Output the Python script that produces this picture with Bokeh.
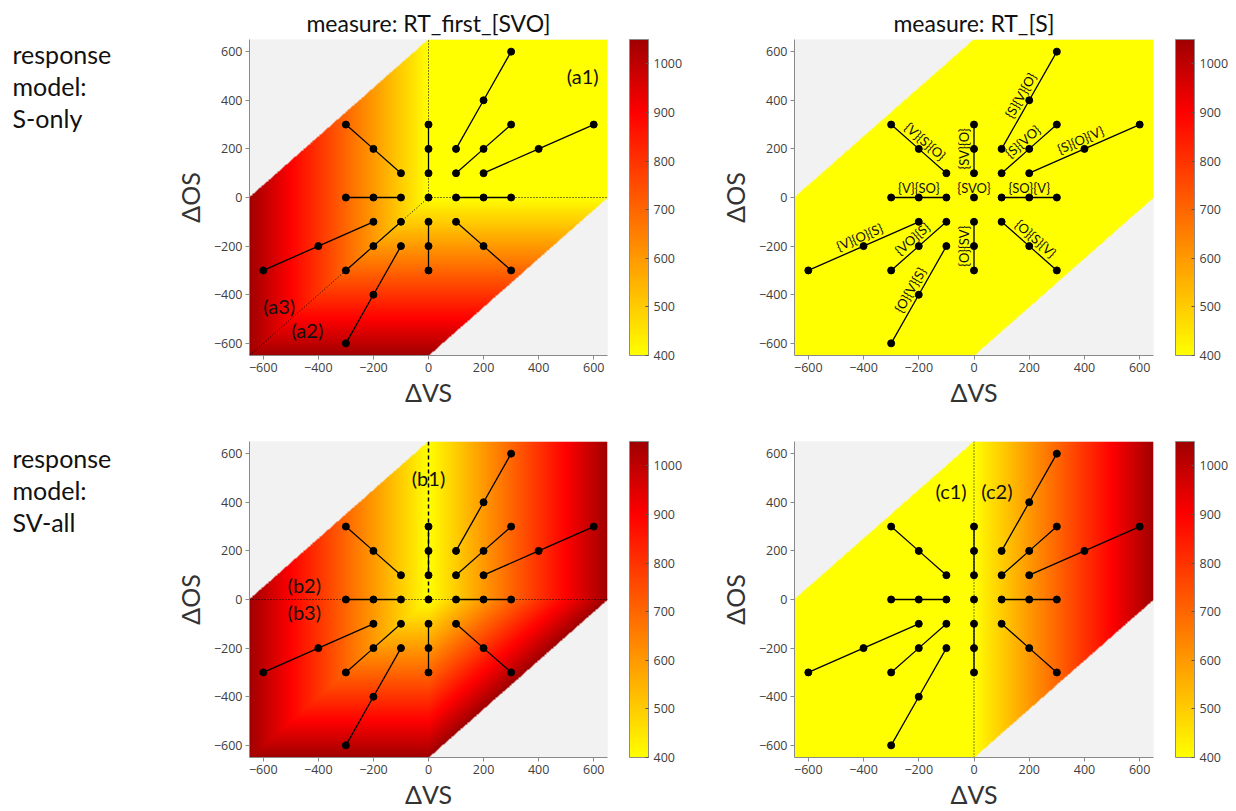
import numpy as np
from bokeh.plotting import figure
from bokeh.models import Range1d, FixedTicker, LinearColorMapper, ColorBar, ColumnDataSource
from bokeh.layouts import row, column
from bokeh.embed import file_html
from bokeh.resources import INLINE
from bokeh.core.properties import value

# ------------------------------------------------------------------ data
# stimulus-onset rays: each ray is three conditions (inner -> outer), in ms
RAY_VS = [[100, 200, 300], [100, 200, 300], [200, 400, 600], [100, 200, 300],
          [100, 200, 300], [0, 0, 0], [-100, -200, -300], [-100, -200, -300],
          [-200, -400, -600], [-100, -200, -300], [-100, -200, -300], [0, 0, 0]]
RAY_OS = [[200, 400, 600], [100, 200, 300], [100, 200, 300], [0, 0, 0],
          [-100, -200, -300], [-100, -200, -300], [-200, -400, -600], [-100, -200, -300],
          [-100, -200, -300], [0, 0, 0], [100, 200, 300], [100, 200, 300]]
RAY_LABELS = ["{S}{V}{O}", "{S}{VO}", "{S}{O}{V}", "{SO}{V}", "{O}{S}{V}", "{O}{SV}",
              "{O}{V}{S}", "{VO}{S}", "{V}{O}{S}", "{V}{SO}", "{V}{S}{O}", "{SV}{O}"]
CENTER_VS = [0]
CENTER_OS = [0]
CENTER_LABEL = ["{SVO}"]

AXIS_TICKS = [-600, -400, -200, 0, 200, 400, 600]
CBAR_TICKS = [400, 500, 600, 700, 800, 900, 1000]
AXIS_LIMIT = 650          # plotted range of onset differences
MAX_VO_DIFF = 650         # simulated range of |dVS - dOS|
RT_BASE = 400             # base response time (ms)
RT_LOW, RT_HIGH = 400, 1050

COL_TITLES = ["measure: RT_first_[SVO]", "measure: RT_[S]"]
ROW_LABELS = [["response", "model:", "S-only"], ["response", "model:", "SV-all"]]
X_LABEL = "ΔVS"
Y_LABEL = "ΔOS"

TAGS_A = ["(a1)", "(a3)", "(a2)"]
TAGS_B = ["(b1)", "(b2)", "(b3)"]
TAGS_C = ["(c1)", "(c2)"]

# ------------------------------------------------------------------ models
# S at 0, V at dVS, O at dOS.  RT measured from the first stimulus / from S.
def s_only_first(vs, os_):
    return RT_BASE + 0 - np.minimum(0, np.minimum(vs, os_))

def s_only_s(vs, os_):
    return RT_BASE + 0 * vs

def sv_all_first(vs, os_):
    return RT_BASE + np.maximum(0, vs) - np.minimum(0, np.minimum(vs, os_))

def sv_all_s(vs, os_):
    return RT_BASE + np.maximum(0, vs) - 0 * os_

# ------------------------------------------------------------------ style
FONT = "Lato"
TICK_FONT = "Open Sans"
GRAY_BG = "#f2f2f2"
AXIS_GRAY = "#8a8a8a"
TEXT_GRAY = "#404040"

anchors_v = [400, 900, 1050]
anchors_rgb = [(255, 255, 0), (255, 0, 0), (160, 0, 0)]
lv = np.linspace(RT_LOW, RT_HIGH, 256)
palette = []
for v in lv:
    r = np.interp(v, anchors_v, [c[0] for c in anchors_rgb])
    g = np.interp(v, anchors_v, [c[1] for c in anchors_rgb])
    b = np.interp(v, anchors_v, [c[2] for c in anchors_rgb])
    palette.append("#%02x%02x%02x" % (int(round(r)), int(round(g)), int(round(b))))


def make_panel(model, title, width, height, bl, br, bt, bb, guides, tags,
               show_labels=False):
    L = AXIS_LIMIT
    p = figure(width=width, height=height, output_backend="svg", toolbar_location=None,
               x_range=Range1d(-L, L), y_range=Range1d(-L, L),
               min_border_left=bl, min_border_right=br, min_border_top=bt,
               min_border_bottom=bb, background_fill_color=GRAY_BG,
               border_fill_color="white", outline_line_color=None)
    if title:
        p.title.text = title
        p.title.align = "center"
        p.title.text_font = FONT
        p.title.text_font_size = "23px"
        p.title.text_font_style = "normal"
        p.title.text_color = "#111111"
        p.title.standoff = 6
    p.grid.visible = False

    fw = width - bl - br
    fh = height - bt - bb
    sx = fw / (2 * L)
    sy = fh / (2 * L)

    # model surface
    n = 520
    step = 2 * L / n
    c = -L + (np.arange(n) + 0.5) * step
    X, Y = np.meshgrid(c, c)
    Z = model(X, Y).astype(float)
    Z[np.abs(X - Y) > MAX_VO_DIFF] = np.nan
    mapper = LinearColorMapper(palette=palette, low=RT_LOW, high=RT_HIGH,
                               nan_color=GRAY_BG)
    p.image(image=[Z], x=-L, y=-L, dw=2 * L, dh=2 * L, color_mapper=mapper)

    # guide lines
    for (gx, gy, dash, lw) in guides:
        p.line(gx, gy, line_color="black", line_dash=dash, line_width=lw)

    # rays
    p.multi_line(xs=RAY_VS, ys=RAY_OS, line_color="black", line_width=1.3)
    allx = [v for r in RAY_VS for v in r] + CENTER_VS
    ally = [v for r in RAY_OS for v in r] + CENTER_OS
    p.scatter(allx, ally, size=7, color="black")

    if show_labels:
        d = 10.0
        lx, ly, la, lt = [], [], [], []
        for vs, os_, lab in zip(RAY_VS, RAY_OS, RAY_LABELS):
            dx = (vs[2] - vs[0]) * sx
            dy = (os_[2] - os_[0]) * sy
            th = np.arctan2(dy, dx)
            if th > np.pi / 2 + 1e-9:
                th -= np.pi
            elif th <= -np.pi / 2 + 1e-9:
                th += np.pi
            lx.append(vs[1] - np.sin(th) * d / sx)
            ly.append(os_[1] + np.cos(th) * d / sy)
            la.append(th)
            lt.append(lab)
        lx.append(CENTER_VS[0])
        ly.append(CENTER_OS[0] + d / sy)
        la.append(0.0)
        lt.append(CENTER_LABEL[0])
        src = ColumnDataSource(dict(x=lx, y=ly, angle=la, text=lt))
        p.text(x="x", y="y", text="text", angle="angle", source=src,
               text_font=value(FONT), text_font_size="13px", text_align="center",
               text_baseline="middle", text_color="#111111")

    if tags:
        tx, ty, tt = tags
        p.text(x=tx, y=ty, text=tt, text_font=value(FONT), text_font_size="20px",
               text_align="center", text_baseline="middle", text_color="#111111")

    for ax, lab, st in ((p.xaxis, X_LABEL, 2), (p.yaxis, Y_LABEL, 6)):
        ax.ticker = FixedTicker(ticks=AXIS_TICKS)
        ax.axis_label = lab
        ax.axis_label_text_font = FONT
        ax.axis_label_text_font_size = "25px"
        ax.axis_label_text_font_style = "normal"
        ax.axis_label_text_color = "#333333"
        ax.axis_label_standoff = st
        ax.major_label_text_font = TICK_FONT
        ax.major_label_text_font_size = "12.5px"
        ax.major_label_text_color = TEXT_GRAY
        ax.major_label_standoff = 3
        ax.axis_line_color = AXIS_GRAY
        ax.major_tick_line_color = AXIS_GRAY
        ax.major_tick_out = 4
        ax.major_tick_in = 0
        ax.minor_tick_out = 0
        ax.minor_tick_in = 0

    cb = ColorBar(color_mapper=mapper, ticker=FixedTicker(ticks=CBAR_TICKS),
                  width=19, height=fh, padding=0, margin=0,
                  location=(22, 0),
                  bar_line_color=AXIS_GRAY, major_tick_line_color="#555555",
                  major_tick_in=3, major_tick_out=0, minor_tick_line_color=None,
                  major_label_text_font=TICK_FONT, major_label_text_font_size="12.5px",
                  major_label_text_color=TEXT_GRAY, label_standoff=5,
                  background_fill_color=None, border_line_color=None)
    p.add_layout(cb, "right")
    return p


L = AXIS_LIMIT
guides1 = [([0, 0], [0, L], "1 2", 1), ([0, L], [0, 0], "1 2", 1), ([0, -L], [0, -L], "1 2", 1)]
guides3 = [([0, 0], [0, L], "4 3", 1.5), ([-L, L], [0, 0], "1 2", 1)]
guides4 = [([0, 0], [-L, L], "1 2", 1)]

tags1 = ([560, -542, -440], [501, -448, -547], TAGS_A)
tags3 = ([0, -451, -451], [501, 58, -53], TAGS_B)
tags4 = ([-83, 83], [448, 448], TAGS_C)

f1 = make_panel(s_only_first, COL_TITLES[0], 562, 411, 99, 105, 39, 56, guides1, tags1)
f2 = make_panel(s_only_s, COL_TITLES[1], 524, 411, 82, 83, 39, 56, [], None,
                show_labels=True)
f3 = make_panel(sv_all_first, None, 562, 400, 99, 105, 30, 54, guides3, tags3)
f4 = make_panel(sv_all_s, None, 524, 400, 82, 83, 30, 54, guides4, tags4)

# row labels
lab = figure(width=150, height=811, output_backend="svg", toolbar_location=None,
             x_range=Range1d(0, 150), y_range=Range1d(811, 0), outline_line_color=None,
             min_border=0)
lab.axis.visible = False
lab.grid.visible = False
ly_rows = [[53, 85, 117], [457, 489, 521]]
for lines, ys in zip(ROW_LABELS, ly_rows):
    lab.text(x=[12] * len(lines), y=ys, text=lines, text_font=value(FONT),
             text_font_size="25px", text_align="left", text_baseline="middle",
             text_color="#111111")

layout = row(lab, column(f1, f3), column(f2, f4))
open("out.html", "w").write(file_html(layout, INLINE))
